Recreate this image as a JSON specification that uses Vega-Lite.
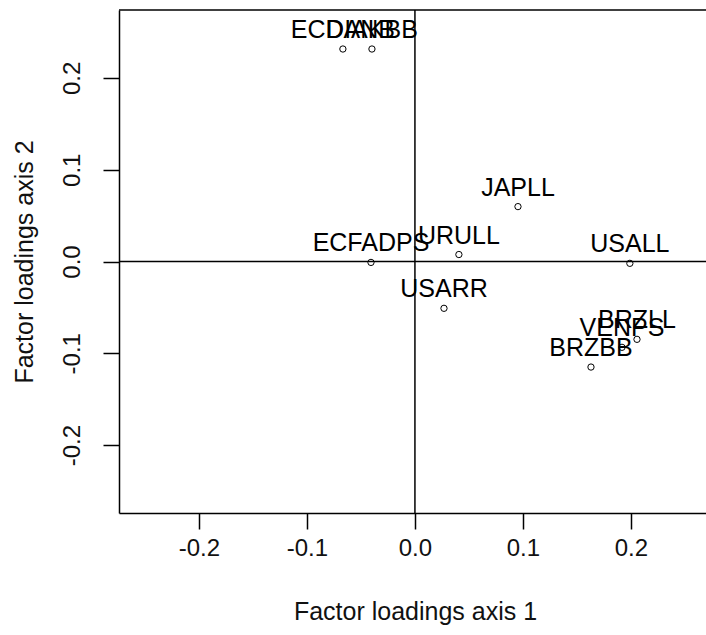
{
  "$schema": "https://vega.github.io/schema/vega-lite/v6.json",
  "autosize": "none",
  "padding": {"left": 119, "top": 10, "right": 0, "bottom": 122},
  "width": 587,
  "height": 503,
  "background": "white",
  "config": {
    "view": {"stroke": null},
    "locale": {"number": {"decimal": ".", "thousands": ",", "grouping": [3], "currency": ["$", ""], "minus": "-"}},
    "font": "Liberation Sans"
  },
  "data": {
    "values": [
      {"label": "ECDANB", "f1": -0.0667, "f2": 0.2315},
      {"label": "DIAKBB", "f1": -0.0398, "f2": 0.2315},
      {"label": "JAPLL", "f1": 0.0954, "f2": 0.0598},
      {"label": "URULL", "f1": 0.0407, "f2": 0.0076},
      {"label": "ECFADPS", "f1": -0.0407, "f2": -0.001},
      {"label": "USALL", "f1": 0.199, "f2": -0.002},
      {"label": "USARR", "f1": 0.0269, "f2": -0.051},
      {"label": "BRZLL", "f1": 0.2056, "f2": -0.0848},
      {"label": "VENPS", "f1": 0.1917, "f2": -0.0935},
      {"label": "BRZBB", "f1": 0.163, "f2": -0.115}
    ]
  },
  "layer": [
    {
      "mark": {"type": "point", "shape": "circle", "filled": false, "color": "#000", "size": 40, "strokeWidth": 1, "opacity": 1},
      "encoding": {
        "x": {
          "field": "f1", "type": "quantitative",
          "scale": {"domain": [-0.274, 0.2695], "nice": false, "zero": false},
          "axis": {
            "title": "Factor loadings axis 1",
            "values": [-0.2, -0.1, 0, 0.1, 0.2],
            "format": ".1f",
            "grid": false,
            "domainColor": "#000", "domainWidth": 1.5,
            "tickColor": "#000", "tickWidth": 1.5, "tickSize": 16,
            "labelFontSize": 24, "labelColor": "#111", "labelPadding": 7, "labelFont": "Liberation Sans",
            "titleFontSize": 25, "titleFontWeight": "normal", "titleColor": "#111", "titlePadding": 39, "titleFont": "Liberation Sans",
            "titleX": 296
          }
        },
        "y": {
          "field": "f2", "type": "quantitative",
          "scale": {"domain": [-0.274, 0.274], "nice": false, "zero": false},
          "axis": {
            "title": "Factor loadings axis 2",
            "values": [-0.2, -0.1, 0, 0.1, 0.2],
            "format": ".1f",
            "grid": false,
            "domainColor": "#000", "domainWidth": 1.5,
            "tickColor": "#000", "tickWidth": 1.5, "tickSize": 16,
            "labelFontSize": 24, "labelColor": "#111", "labelPadding": 19, "labelAngle": -90,
            "labelAlign": "center", "labelBaseline": "bottom", "labelFont": "Liberation Sans",
            "titleFontSize": 25, "titleFontWeight": "normal", "titleColor": "#111", "titlePadding": 23, "titleFont": "Liberation Sans"
          }
        }
      }
    },
    {
      "mark": {"type": "text", "fontSize": 25, "font": "Liberation Sans", "color": "#000", "align": "center", "baseline": "alphabetic", "dy": -11},
      "encoding": {
        "x": {"field": "f1", "type": "quantitative"},
        "y": {"field": "f2", "type": "quantitative"},
        "text": {"field": "label"}
      }
    },
    {
      "data": {"values": [{}]},
      "mark": {"type": "rule", "color": "#000", "strokeWidth": 1.5},
      "encoding": {"x": {"datum": 0}}
    },
    {
      "data": {"values": [{}]},
      "mark": {"type": "rule", "color": "#000", "strokeWidth": 1.5},
      "encoding": {"y": {"datum": 0}}
    },
    {
      "data": {"values": [{}]},
      "mark": {"type": "rule", "color": "#000", "strokeWidth": 1.5},
      "encoding": {"y": {"datum": 0.274}}
    }
  ]
}
